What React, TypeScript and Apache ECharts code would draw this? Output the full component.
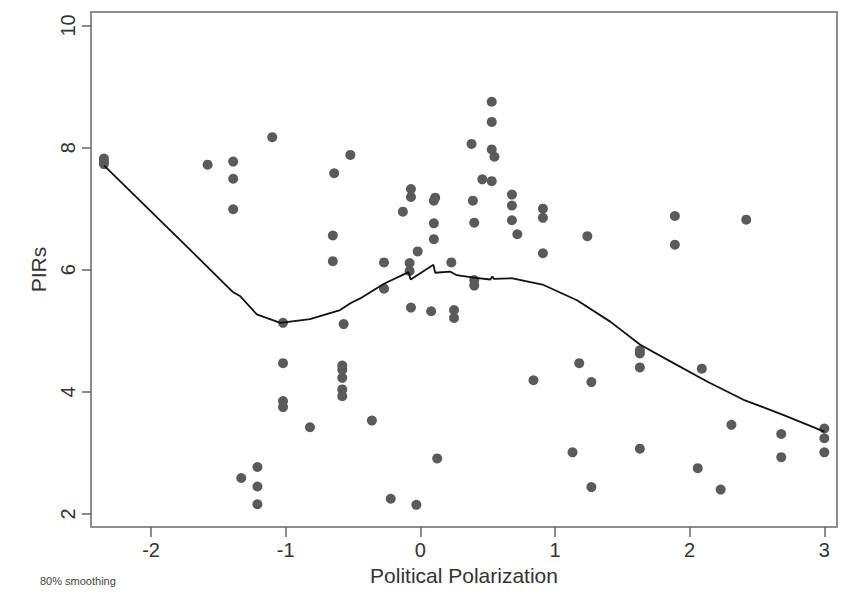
import React, { useEffect, useRef } from "react";
import * as echarts from "echarts";

const pointsX = [
  -2.35, -2.35, -2.35, -1.58, -1.39, -1.39, -1.39, -1.1, -0.52, -0.64,
  -0.65, -0.65, -1.02, -0.57, -1.02, -1.02, -1.02, -0.82, -0.58, -0.58,
  -0.58, -0.58, -0.58, -0.36, -1.21, -1.33, -1.21, -1.21, -0.22, -0.03,
  0.125, -0.27, -0.27, -0.08, -0.08, -0.02, 0.1, 0.23, -0.07, 0.08,
  0.25, 0.25, 0.4, 0.4, 0.53, 0.53, 0.38, 0.53, 0.55, 0.46,
  0.53, -0.07, -0.07, 0.11, 0.1, -0.13, 0.39, 0.4, 0.1, 0.68,
  0.68, 0.68, 0.72, 0.91, 0.91, 0.91, 1.24, 1.89, 1.89, 2.42,
  1.63, 1.63, 1.63, 1.18, 0.84, 1.27, 2.09, 2.31, 2.68, 2.68,
  3.0, 3.0, 3.0, 1.13, 1.63, 2.06, 1.27, 2.23,
];
const pointsY = [
  7.82, 7.77, 7.73, 7.72, 7.77, 7.49, 6.99, 8.17, 7.88, 7.58,
  6.56, 6.14, 5.13, 5.11, 4.47, 3.85, 3.75, 3.42, 4.43, 4.36,
  4.23, 4.04, 3.93, 3.53, 2.77, 2.59, 2.45, 2.16, 2.25, 2.15,
  2.91, 6.12, 5.69, 6.11, 5.98, 6.3, 6.5, 6.12, 5.38, 5.32,
  5.34, 5.21, 5.83, 5.74, 8.75, 8.42, 8.06, 7.97, 7.85, 7.48,
  7.45, 7.32, 7.19, 7.18, 7.13, 6.95, 7.13, 6.77, 6.76, 7.23,
  7.05, 6.81, 6.58, 7.0, 6.85, 6.27, 6.55, 6.88, 6.41, 6.82,
  4.68, 4.63, 4.4, 4.47, 4.19, 4.16, 4.38, 3.46, 3.31, 2.93,
  3.4, 3.24, 3.01, 3.01, 3.07, 2.75, 2.44, 2.4,
];

const lowessX = [
  -2.35, -1.785, -1.39, -1.34, -1.215, -1.04, -0.82, -0.596, -0.52, -0.447,
  -0.27, -0.088, -0.072, 0.097, 0.11, 0.22, 0.27, 0.395, 0.519, 0.535,
  0.545, 0.684, 0.915, 1.163, 1.41, 1.633, 1.88, 2.129, 2.4, 2.698, 3.0,
];
const lowessY = [
  7.71, 6.49, 5.63, 5.57, 5.27, 5.13, 5.19, 5.34, 5.45, 5.53,
  5.77, 5.96, 5.84, 6.08, 5.95, 5.97, 5.91, 5.87, 5.84, 5.89,
  5.85, 5.86, 5.75, 5.5, 5.15, 4.77, 4.47, 4.17, 3.87, 3.62, 3.35,
];

const xTicks = [-2, -1, 0, 1, 2, 3];
const yTicks = [2, 4, 6, 8, 10];

const xTitle = "Political Polarization";
const yTitle = "PIRs";
const note = "80% smoothing";

export default function App() {
  const ref = useRef<HTMLDivElement>(null);
  useEffect(() => {
    if (!ref.current) return;
    const chart = echarts.init(ref.current, null, { renderer: "svg" });
    const font = "Liberation Sans, Arial, sans-serif";
    chart.setOption({
      animation: false,
      backgroundColor: "#ffffff",
      grid: {
        left: 91,
        right: 9,
        top: 12,
        bottom: 80,
        show: true,
        borderColor: "#8c8c8c",
        borderWidth: 2,
        backgroundColor: "transparent",
      },
      xAxis: {
        type: "value",
        min: -2.446,
        max: 3.094,
        position: "bottom",
        axisLine: { show: false, onZero: false },
        splitLine: { show: false },
        axisTick: {
          show: true,
          inside: false,
          customValues: xTicks,
          length: 10,
          lineStyle: { color: "#666", width: 1.5 },
        },
        axisLabel: {
          customValues: xTicks,
          margin: 13,
          fontSize: 20,
          color: "#333",
          fontFamily: font,
        },
        name: xTitle,
        nameLocation: "middle",
        nameGap: 37,
        nameTextStyle: { fontSize: 21, color: "#333", fontFamily: font },
      },
      yAxis: {
        type: "value",
        min: 1.787,
        max: 10.22,
        position: "left",
        axisLine: { show: false, onZero: false },
        splitLine: { show: false },
        axisTick: {
          show: true,
          inside: false,
          customValues: yTicks,
          length: 9,
          lineStyle: { color: "#666", width: 1.5 },
        },
        axisLabel: {
          customValues: yTicks,
          rotate: 90,
          margin: 13,
          fontSize: 20,
          color: "#333",
          fontFamily: font,
        },
        name: yTitle,
        nameLocation: "middle",
        nameGap: 42,
        nameTextStyle: { fontSize: 21, color: "#333", fontFamily: font },
      },
      graphic: [
        {
          type: "text",
          left: 40,
          top: 575,
          style: { text: note, fontSize: 11, fill: "#444", fontFamily: font },
        },
      ],
      series: [
        {
          type: "scatter",
          data: pointsX.map((x, i) => [x, pointsY[i]]),
          symbol: "circle",
          symbolSize: 10,
          itemStyle: { color: "#5a5a5a", opacity: 1 },
          z: 2,
        },
        {
          type: "line",
          data: lowessX.map((x, i) => [x, lowessY[i]]),
          showSymbol: false,
          symbol: "none",
          lineStyle: { color: "#111", width: 1.8 },
          z: 3,
        },
      ],
    });
    return () => chart.dispose();
  }, []);
  return (
    <div
      ref={ref}
      style={{ position: "fixed", left: 0, top: 0, width: 846, height: 607 }}
    />
  );
}
